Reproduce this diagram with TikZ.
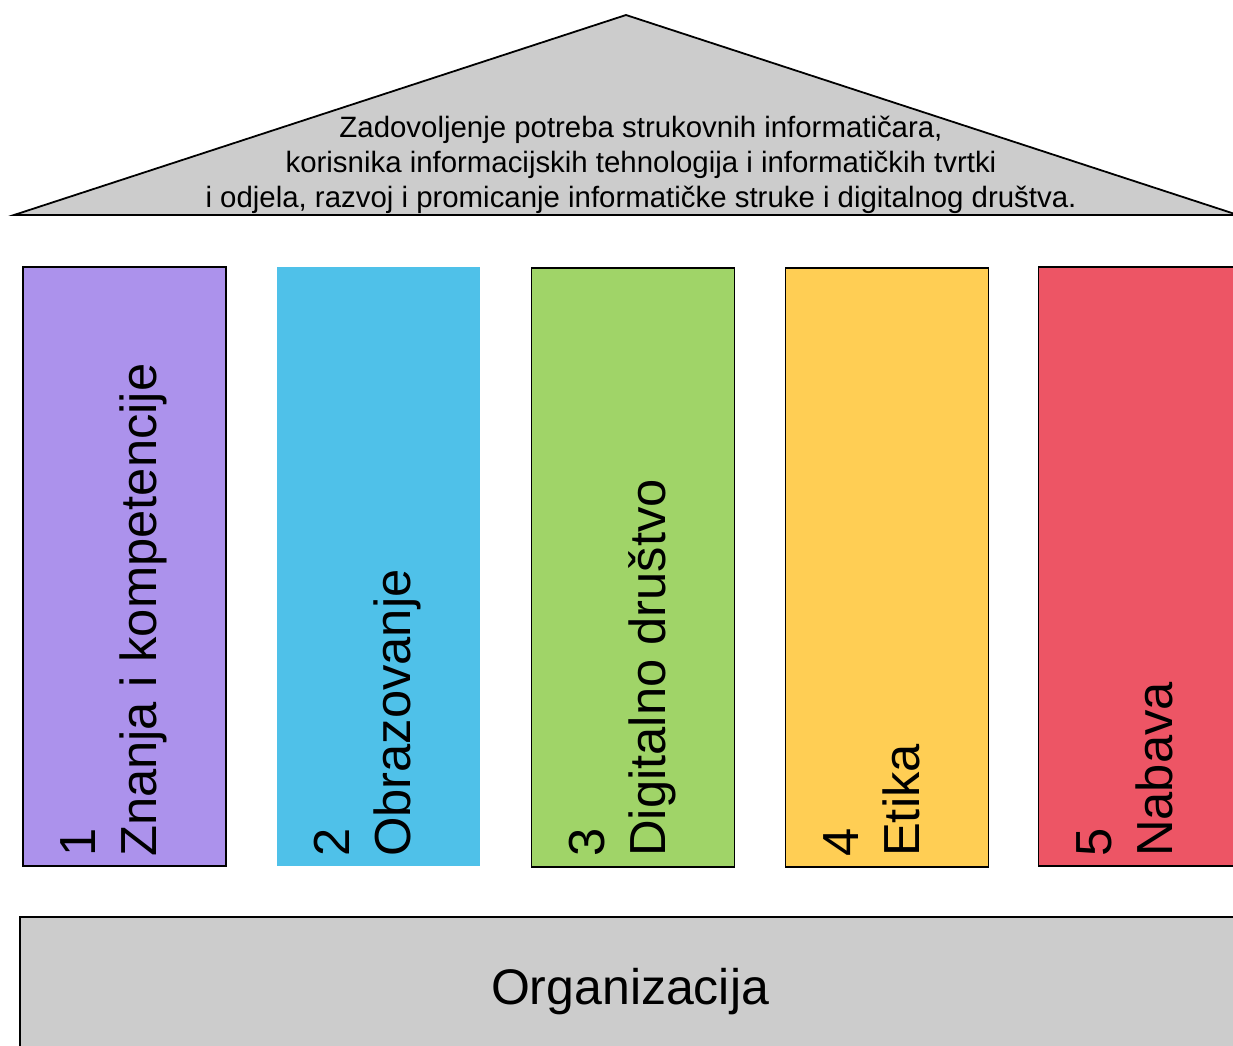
\documentclass[tikz,border=0pt]{standalone}
\usepackage{fontspec}
\setmainfont{Liberation Sans}
\definecolor{roofgray}{HTML}{CCCCCC}
\definecolor{cpurple}{HTML}{AC92EC}
\definecolor{cblue}{HTML}{4FC1E9}
\definecolor{cgreen}{HTML}{A0D468}
\definecolor{cyellow}{HTML}{FFCE54}
\definecolor{cred}{HTML}{ED5565}
\begin{document}
\begin{tikzpicture}[x=1pt,y=-1pt,
  pillar/.style={rectangle,draw=black,line width=1.8pt,minimum width=203pt,minimum height=599pt,inner sep=0pt},
  plabel/.style={rotate=90,anchor=base west,inner sep=0pt,font=\fontsize{50.7}{60}\selectfont},
  rooftext/.style={align=center,inner sep=0pt,font=\fontsize{29.4}{35}\selectfont},
  baselabel/.style={anchor=base,inner sep=0pt,font=\fontsize{50}{60}\selectfont}]
\useasboundingbox (0,0) rectangle (1233,1045);
\clip (0,0) rectangle (1233,1045);
% roof
\coordinate (apex) at (626,15);
\coordinate (rl) at (14,215);
\coordinate (rr) at (1238,215);
\filldraw[fill=roofgray,draw=black,line width=1.8pt,line join=miter] (rl) -- (apex) -- (rr) -- cycle;
\node[rooftext] (roof) at (641,164.5) {Zadovoljenje potreba strukovnih informatičara,\\korisnika informacijskih tehnologija i informatičkih tvrtki\\i odjela, razvoj i promicanje informatičke struke i digitalnog društva.};
% pillars
\node[pillar,fill=cpurple] (p1) at (124.5,566.5) {};
\node[pillar,fill=cblue,draw=none] (p2) at (378.5,566.5) {};
\node[pillar,fill=cgreen] (p3) at (633,567.5) {};
\node[pillar,fill=cyellow] (p4) at (887,567.5) {};
\node[pillar,fill=cred] (p5) at (1140,566.5) {};
% pillar labels
\node[plabel] (n1) at (95,857) {1};
\node[plabel] (t1) at (156,857) {Znanja i kompetencije};
\node[plabel] (n2) at (349,857) {2};
\node[plabel] (t2) at (410,857) {Obrazovanje};
\node[plabel] (n3) at (604,857) {3};
\node[plabel] (t3) at (665,857) {Digitalno društvo};
\node[plabel] (n4) at (858,857) {4};
\node[plabel] (t4) at (919,857) {Etika};
\node[plabel] (n5) at (1111,857) {5};
\node[plabel] (t5) at (1172,857) {Nabava};
% base
\filldraw[fill=roofgray,draw=black,line width=1.8pt] (20,917) rectangle (1260,1070);
\node[baselabel] (org) at (630,1004) {Organizacija};
\end{tikzpicture}
\end{document}
